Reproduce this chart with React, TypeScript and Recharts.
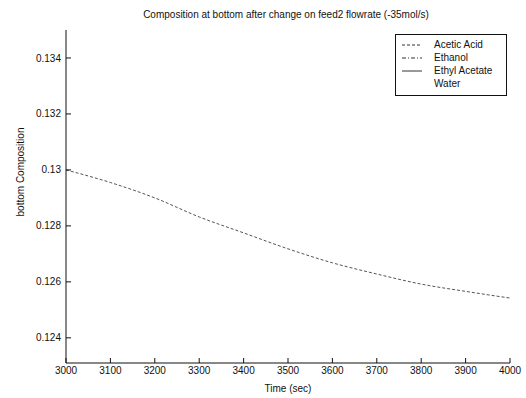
import React from 'react';
import { LineChart, Line, XAxis, YAxis, Label } from 'recharts';

// time (sec) and bottom composition
const times = [3000, 3100, 3200, 3300, 3400, 3500, 3600, 3700, 3800, 3900, 4000];
const aceticAcid = [0.13, 0.12955, 0.129, 0.12832, 0.12775, 0.12718, 0.12668, 0.12628, 0.12592, 0.12566, 0.12542];

const xTicks = [3000, 3100, 3200, 3300, 3400, 3500, 3600, 3700, 3800, 3900, 4000];
const yTicks = [0.124, 0.126, 0.128, 0.13, 0.132, 0.134];

// legend entries (only acetic acid falls inside the plotted range)
const seriesNames = ['Acetic Acid', 'Ethanol', 'Ethyl Acetate', 'Water'];
const seriesDash = ['3 2', '4 2 1 2', '', 'none'];

const data = times.map((t, i) => ({ time: t, acetic: aceticAcid[i] }));

const FONT = '"Liberation Sans", Arial, sans-serif';
const tickStyle = { fontSize: 10, fill: '#111', fontFamily: FONT };

function LegendBox() {
  return (
    <div style={{ position: 'absolute', left: 395, top: 34, width: 112, height: 62, border: '1px solid #111', background: '#fff',
      paddingTop: 3, boxSizing: 'border-box', fontFamily: FONT, fontSize: 10, color: '#111' }}>
      {seriesNames.map((n, i) => (
        <div key={n} style={{ display: 'flex', alignItems: 'center', height: 13 }}>
          <svg width={34} height={8} style={{ marginLeft: 4 }}>
            {seriesDash[i] !== 'none' && (
              <line x1={2} y1={4} x2={22} y2={4} stroke="#333" strokeWidth={1} strokeDasharray={seriesDash[i] || undefined} />
            )}
          </svg>
          <span>{n}</span>
        </div>
      ))}
    </div>
  );
}

const YTitle = () => (
  <text x={24} y={172} transform="rotate(-90 24 172)" textAnchor="middle" fontSize={10} fill="#111" fontFamily={FONT}>
    bottom Composition
  </text>
);

export default function App() {
  return (
    <div style={{ position: 'absolute', left: 0, top: 0, width: 526, height: 398, background: '#fff' }}>
      <div style={{ position: 'absolute', top: 9, left: 0, width: 572, textAlign: 'center', fontFamily: FONT, fontSize: 10, color: '#111' }}>
        Composition at bottom after change on feed2 flowrate (-35mol/s)
      </div>
      <LineChart width={526} height={398} data={data} margin={{ top: 30, right: 16, bottom: 0, left: 0 }}>
        <XAxis dataKey="time" type="number" domain={[3000, 4000]} ticks={xTicks} height={35}
          tick={tickStyle} tickSize={-5} tickMargin={9} stroke="#111" interval={0}>
          <Label value="Time (sec)" position="insideBottom" offset={6} style={{ fontSize: 10, fill: '#111', fontFamily: FONT }} />
        </XAxis>
        <XAxis xAxisId="top" orientation="top" dataKey="time" type="number" domain={[3000, 4000]} ticks={xTicks}
          height={0} tick={false} tickSize={-5} stroke="#111" />
        <YAxis type="number" domain={[0.1231, 0.135]} ticks={yTicks} width={66} allowDataOverflow
          tick={tickStyle} tickSize={-5} tickMargin={10} stroke="#111" interval={0}>
          <Label content={YTitle} />
        </YAxis>
        <YAxis yAxisId="right" orientation="right" type="number" domain={[0.1231, 0.135]} ticks={yTicks} width={0}
          tick={false} tickSize={-5} stroke="#111" />
        <Line type="monotone" dataKey="acetic" name="Acetic Acid" stroke="#555" strokeWidth={1}
          strokeDasharray="3 2" dot={false} isAnimationActive={false} />
      </LineChart>
      <LegendBox />
    </div>
  );
}
